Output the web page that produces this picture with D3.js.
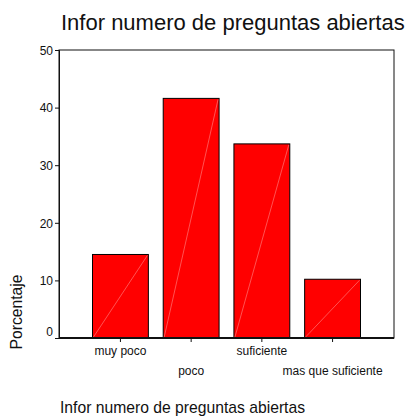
<!DOCTYPE html>
<html>
<head>
<meta charset="utf-8">
<script src="https://cdn.jsdelivr.net/npm/d3@7"></script>
<style>
  html, body { margin: 0; padding: 0; background: #fff; }
  svg { display: block; font-family: "Liberation Sans", Arial, sans-serif; }
</style>
</head>
<body>
<svg id="chart" width="415" height="419"></svg>
<script>
const categories = ["muy poco", "poco", "suficiente", "mas que suficiente"];
const values = [14.5, 41.6, 33.7, 10.2];
const yTicks = [0, 10, 20, 30, 40, 50];
const title = "Infor numero de preguntas abiertas";
const xTitle = "Infor numero de preguntas abiertas";
const yTitle = "Porcentaje";

(function () {
const svg = d3.select("#chart");
const pL = 59, pR = 394, pT = 50, pB = 338;

const x = d3.scaleBand().domain(categories).range([92.5, 360.5]).paddingInner(0.21).paddingOuter(0);
const y = d3.scaleLinear().domain([0, 50]).range([pB, pT]);

// frame
svg.append("rect").attr("x", pL).attr("y", pT).attr("width", pR - pL).attr("height", pB - pT)
  .attr("fill", "none").attr("stroke", "#111").attr("stroke-width", 1);

// bars
const g = svg.append("g");
categories.forEach((c, i) => {
  const x0 = x(c), w = x.bandwidth(), y0 = y(values[i]);
  g.append("rect").attr("x", x0).attr("y", y0).attr("width", w).attr("height", y(0) - y0)
    .attr("fill", "#ff0000").attr("stroke", "#000").attr("stroke-width", 1);
  g.append("line").attr("x1", x0 + 1).attr("y1", y(0) - 1).attr("x2", x0 + w - 1).attr("y2", y0 + 1)
    .attr("stroke", "#ff8a8a").attr("stroke-width", 0.6);
});

// bottom axis line
svg.append("line").attr("x1", pL).attr("x2", pR).attr("y1", pB).attr("y2", pB)
  .attr("stroke", "#111").attr("stroke-width", 2);

// y axis
const yAxis = d3.axisLeft(y).tickValues(yTicks).tickSize(4).tickPadding(2).tickFormat(d3.format("d"));
const ya = svg.append("g").attr("transform", `translate(${pL},0)`).call(yAxis);
ya.select(".domain").attr("stroke", "#111");
ya.selectAll(".tick line").attr("stroke", "#111");
ya.selectAll(".tick text").attr("font-size", 12).attr("fill", "#111")
  .attr("font-family", "Liberation Sans, Arial, sans-serif")
  .attr("dy", d => d === 0 ? "-0.25em" : "0.35em");

// x axis ticks and labels
const xa = d3.axisBottom(x).tickSize(3).tickSizeOuter(0).tickPadding(0);
const xg = svg.append("g").attr("transform", `translate(0,${pB + 1})`).call(xa);
xg.select(".domain").remove();
xg.selectAll(".tick line").attr("stroke", "#111");
xg.selectAll(".tick text").attr("font-size", 12).attr("fill", "#111")
  .attr("font-family", "Liberation Sans, Arial, sans-serif")
  .attr("y", (d, i) => i % 2 === 0 ? 16 : 36).attr("dy", 0);

// titles
svg.append("text").attr("x", 61).attr("y", 30).attr("font-size", 22).attr("fill", "#111").text(title);
svg.append("text").attr("x", 60).attr("y", 413).attr("font-size", 15.7).attr("fill", "#111").text(xTitle);
svg.append("text").attr("transform", "translate(22,312) rotate(-90)").attr("text-anchor", "middle")
  .attr("font-size", 15.7).attr("fill", "#111").text(yTitle);
})();
</script>
</body>
</html>
